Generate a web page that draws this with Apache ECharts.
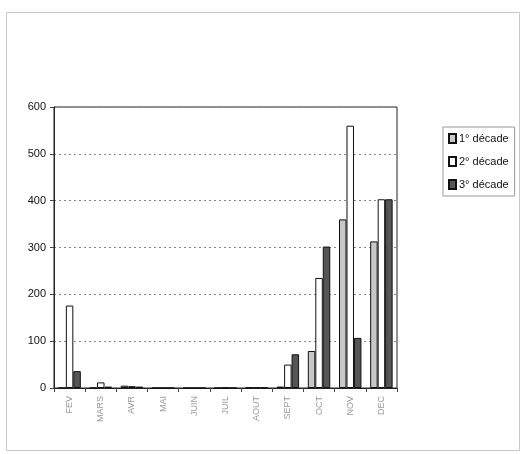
<!DOCTYPE html>
<html>
<head>
<meta charset="utf-8">
<script src="https://cdn.jsdelivr.net/npm/echarts@6/dist/echarts.min.js"></script>
<style>html,body{margin:0;padding:0;background:#fff;}#c{width:525px;height:454px;}</style>
</head>
<body>
<div id="c"></div>
<script>
const categories = ["FEV", "MARS", "AVR", "MAI", "JUIN", "JUIL", "AOUT", "SEPT", "OCT", "NOV", "DEC"];
const seriesNames = ["1° décade", "2° décade", "3° décade"];
const decade1 = [0, 0, 5, 0, 0, 0, 1, 3, 79, 360, 313];
const decade2 = [176, 12, 4, 0, 0, 1, 2, 50, 235, 560, 403];
const decade3 = [36, 3, 3, 0, 0, 0, 1, 72, 302, 107, 403];
const yTicks = [0, 100, 200, 300, 400, 500, 600];
const colors = ["#c8c8c8", "#ffffff", "#555555"];

const chart = echarts.init(document.getElementById('c'));
const data = [decade1, decade2, decade3];
chart.setOption({
  animation: false,
  backgroundColor: '#fff',
  graphic: [{
    type: 'rect', shape: {x: 6.5, y: 12.5, width: 513, height: 438},
    style: {fill: 'none', stroke: '#c8c8c8', lineWidth: 1}, silent: true
  }],
  grid: {left: 54, top: 107, right: 128, bottom: 66, show: true, borderColor: '#222', borderWidth: 1},
  legend: {
    orient: 'vertical', left: 443, top: 127,
    itemWidth: 7, itemHeight: 9, itemGap: 12,
    borderColor: '#999', borderWidth: 1, padding: [6, 6, 6, 5],
    textStyle: {fontFamily: 'Liberation Sans', fontSize: 11, color: '#111', padding: [0, 0, 0, -2]},
    data: seriesNames.map(n => ({name: n, icon: 'rect'}))
  },
  xAxis: {
    type: 'category', data: categories, boundaryGap: true,
    axisLine: {lineStyle: {color: '#222'}},
    axisTick: {show: true, inside: false, length: 4, lineStyle: {color: '#444'}},
    axisLabel: {rotate: 90, fontFamily: 'Liberation Sans', fontSize: 9, color: '#999', margin: 8}
  },
  yAxis: {
    type: 'value', min: yTicks[0], max: yTicks[yTicks.length - 1], interval: 100,
    axisLine: {show: true, lineStyle: {color: '#222'}},
    axisTick: {show: true, length: 4, lineStyle: {color: '#444'}},
    axisLabel: {fontFamily: 'Liberation Sans', fontSize: 11, color: '#111', margin: 8},
    splitLine: {lineStyle: {color: '#888', type: [2, 3], width: 1}}
  },
  series: seriesNames.map((n, i) => ({
    name: n, type: 'bar', data: data[i],
    barGap: '0%', barCategoryGap: '28%',
    itemStyle: {color: colors[i], borderColor: '#111', borderWidth: 1}
  }))
});
</script>
</body>
</html>
